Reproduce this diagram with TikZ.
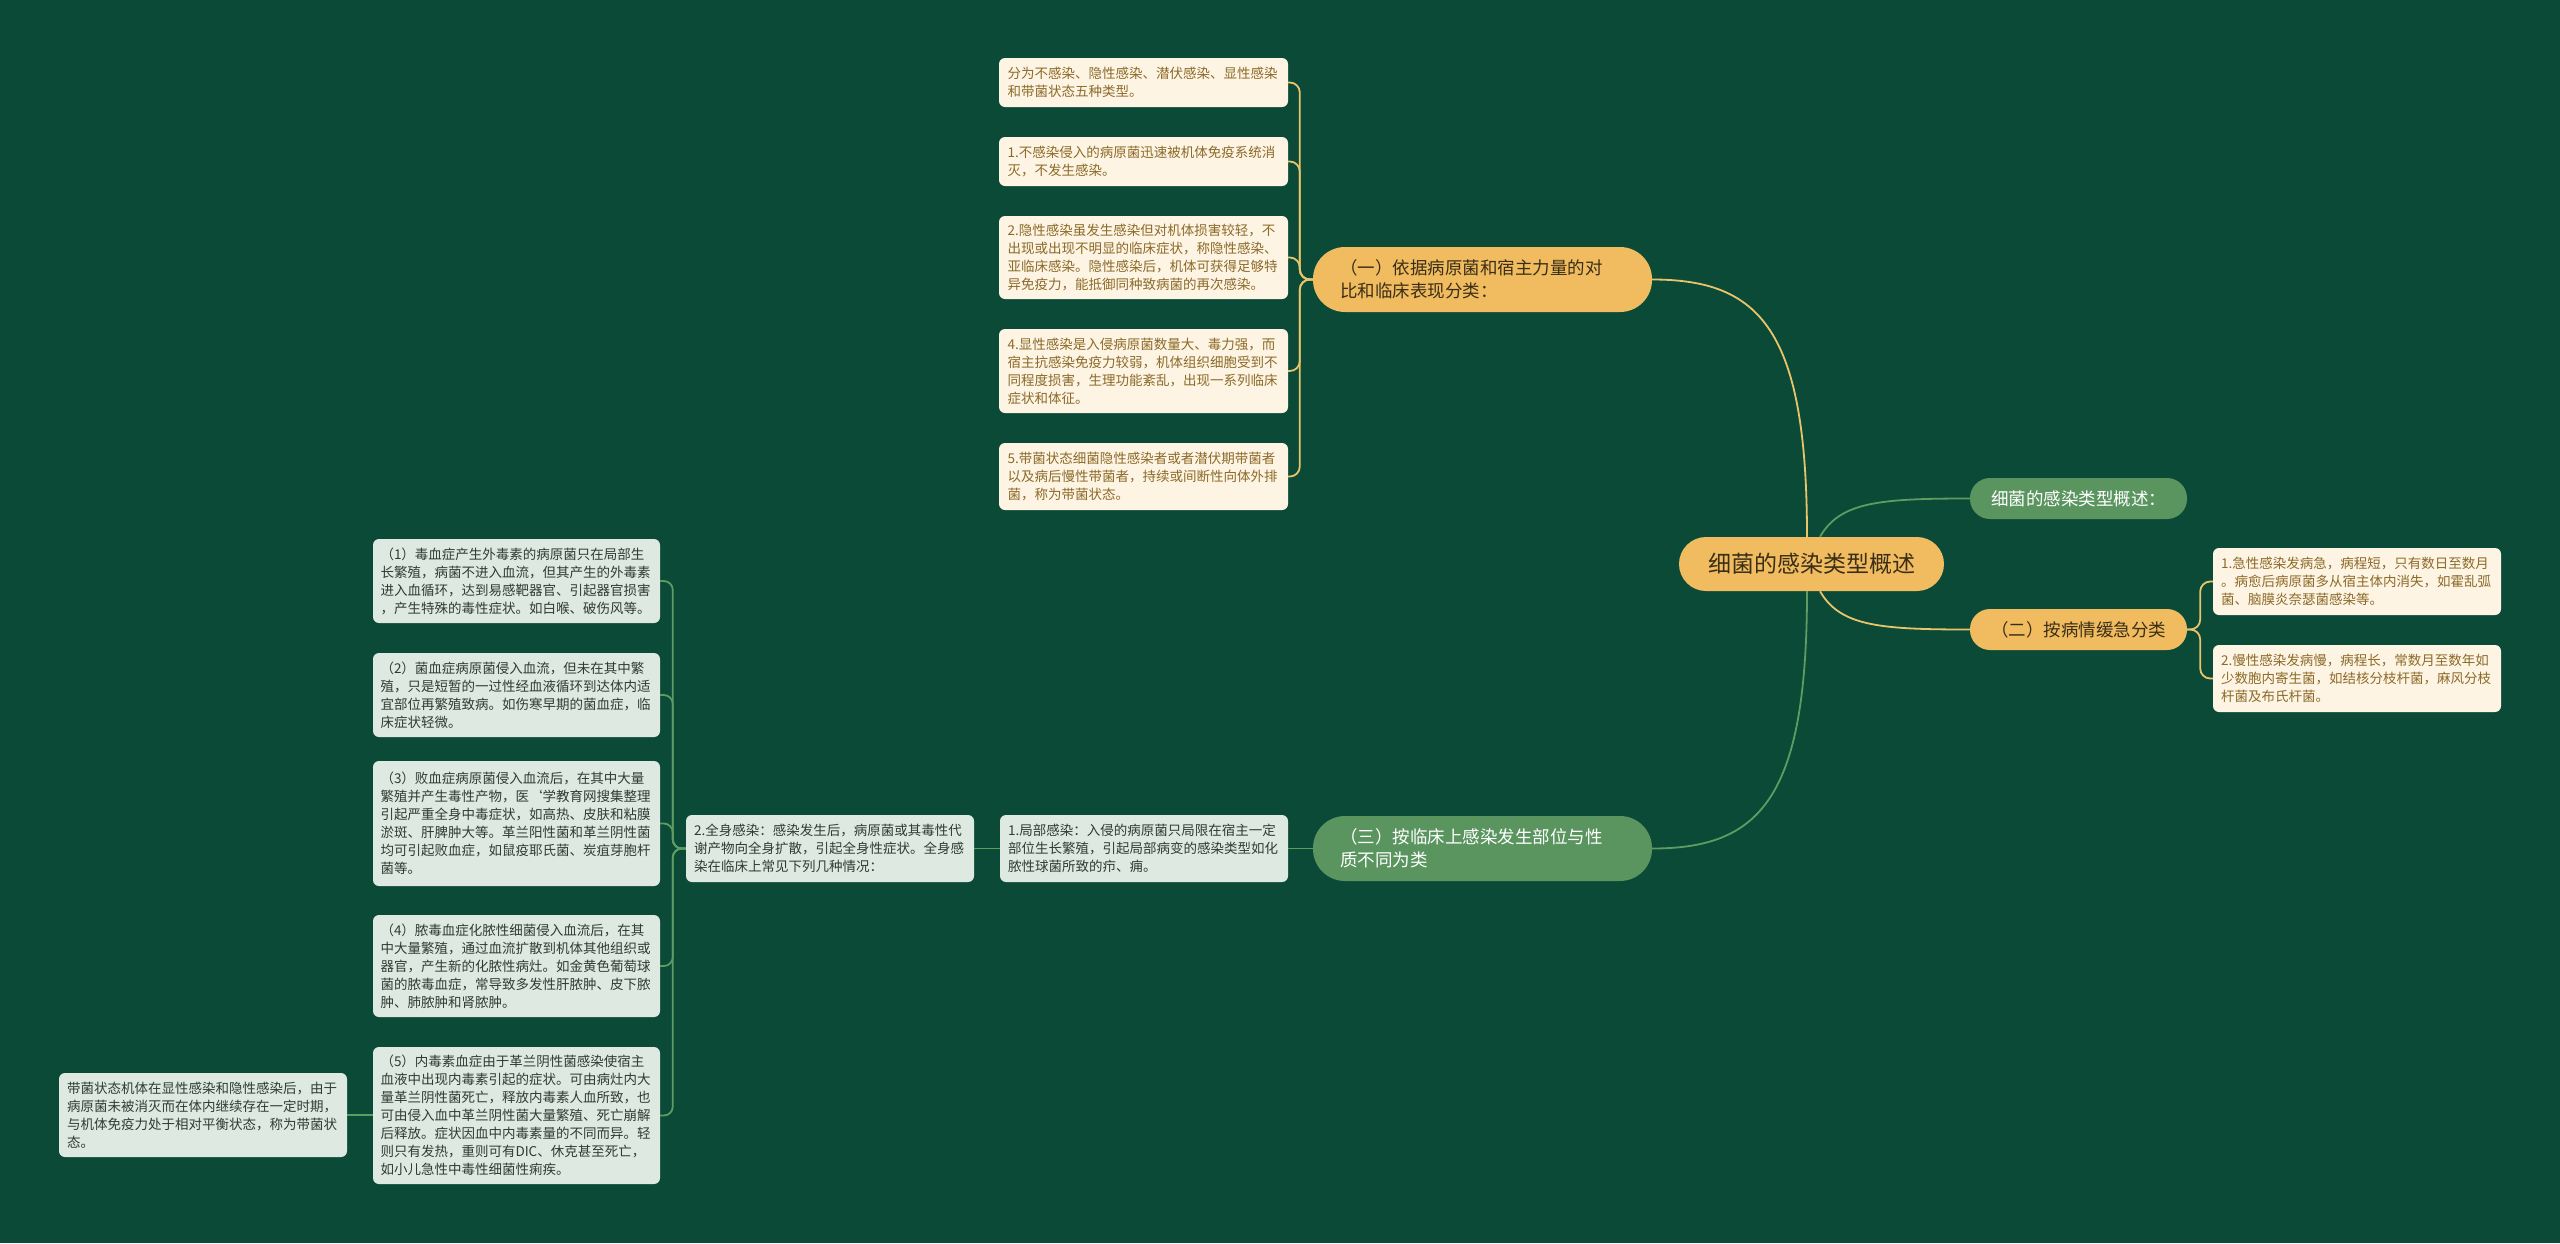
\documentclass[tikz,border=0pt]{standalone}
\usepackage{fontspec}
\setmainfont{Noto Sans CJK SC}
\usetikzlibrary{calc}
\definecolor{cBg}{HTML}{0C4A38}
\definecolor{cGoldFill}{HTML}{F0BC5F}
\definecolor{cGoldLine}{HTML}{E9C46A}
\definecolor{cGreenFill}{HTML}{5A9560}
\definecolor{cGreenLine}{HTML}{5E9C62}
\definecolor{cCream}{HTML}{FDF4E4}
\definecolor{cCreamText}{HTML}{8C6A28}
\definecolor{cLeafG}{HTML}{DEE9E1}
\definecolor{cLeafGText}{HTML}{2F3B33}
\definecolor{cDarkText}{HTML}{3A2E17}
\begin{document}
\begin{tikzpicture}[x=1pt,y=-1pt,
  leafY/.style={fill=cCream, rounded corners=6pt, text=cCreamText, font=\fontsize{13.5}{18}\selectfont, align=left, inner sep=0pt, text width=272pt, minimum width=289pt},
  leafG/.style={fill=cLeafG, rounded corners=6pt, text=cLeafGText, font=\fontsize{13.5}{18}\selectfont, align=left, inner sep=0pt, text width=272pt, minimum width=288pt},
  branchO/.style={fill=cGoldFill, text=cDarkText, inner sep=0pt, font=\fontsize{17.5}{23}\selectfont, align=left},
  branchG/.style={fill=cGreenFill, text=white, inner sep=0pt, font=\fontsize{17.5}{23}\selectfont, align=left},
  lineGold/.style={draw=cGoldLine, line width=1.8pt},
  lineGreen/.style={draw=cGreenLine, line width=1.8pt}
]
\fill[cBg] (0,0) rectangle (2560,1243);
\useasboundingbox (0,0) rectangle (2560,1243);

% central topic
\node[fill=cGoldFill, rounded corners=27pt, minimum width=265pt, minimum height=54pt, inner sep=0pt, text=cDarkText, font=\fontsize{23}{28}\selectfont] (center) at (1811.5,564) {细菌的感染类型概述};

% branches
\node[branchO, rounded corners=32pt, minimum width=339pt, minimum height=65pt, text width=285pt] (b1) at (1482.5,279.5) {（一）依据病原菌和宿主力量的对\\比和临床表现分类：};
\node[branchG, rounded corners=20pt, minimum width=217pt, minimum height=41pt] (g1) at (2078.5,498.5) {细菌的感染类型概述：};
\node[branchO, rounded corners=20pt, minimum width=217pt, minimum height=41pt] (b2) at (2078.5,629.5) {（二）按病情缓急分类};
\node[branchG, rounded corners=32pt, minimum width=339pt, minimum height=65pt, text width=285pt] (b3) at (1482.5,848.5) {（三）按临床上感染发生部位与性\\质不同为类};

% leaves of (一)
\node[leafY, minimum height=49pt] (lA) at (1143.5,82.5) {分为不感染、隐性感染、潜伏感染、显性感染\\和带菌状态五种类型。};
\node[leafY, minimum height=49pt] (lB) at (1143.5,161.5) {1.不感染侵入的病原菌迅速被机体免疫系统消\\灭，不发生感染。};
\node[leafY, minimum height=83pt] (lC) at (1143.5,257.5) {2.隐性感染虽发生感染但对机体损害较轻，不\\出现或出现不明显的临床症状，称隐性感染、\\亚临床感染。隐性感染后，机体可获得足够特\\异免疫力，能抵御同种致病菌的再次感染。};
\node[leafY, minimum height=84pt] (lD) at (1143.5,371) {4.显性感染是入侵病原菌数量大、毒力强，而\\宿主抗感染免疫力较弱，机体组织细胞受到不\\同程度损害，生理功能紊乱，出现一系列临床\\症状和体征。};
\node[leafY, minimum height=67pt] (lE) at (1143.5,476.5) {5.带菌状态细菌隐性感染者或者潜伏期带菌者\\以及病后慢性带菌者，持续或间断性向体外排\\菌，称为带菌状态。};

% leaves of (二)
\node[leafY, minimum width=288pt, minimum height=67pt] (r1) at (2357,581.5) {1.急性感染发病急，病程短，只有数日至数月\\。病愈后病原菌多从宿主体内消失，如霍乱弧\\菌、脑膜炎奈瑟菌感染等。};
\node[leafY, minimum width=288pt, minimum height=67pt] (r2) at (2357,678.5) {2.慢性感染发病慢，病程长，常数月至数年如\\少数胞内寄生菌，如结核分枝杆菌，麻风分枝\\杆菌及布氏杆菌。};

% (三) chain
\node[leafG, minimum height=67pt] (l1) at (1144,848.5) {1.局部感染：入侵的病原菌只局限在宿主一定\\部位生长繁殖，引起局部病变的感染类型如化\\脓性球菌所致的疖、痈。};
\node[leafG, minimum height=67pt] (g2) at (830,848.5) {2.全身感染：感染发生后，病原菌或其毒性代\\谢产物向全身扩散，引起全身性症状。全身感\\染在临床上常见下列几种情况：};

\node[leafG, minimum width=287pt, minimum height=84pt] (c1) at (516.5,581) {（1）毒血症产生外毒素的病原菌只在局部生\\长繁殖，病菌不进入血流，但其产生的外毒素\\进入血循环，达到易感靶器官、引起器官损害\\，产生特殊的毒性症状。如白喉、破伤风等。};
\node[leafG, minimum width=287pt, minimum height=84pt] (c2) at (516.5,695) {（2）菌血症病原菌侵入血流，但未在其中繁\\殖，只是短暂的一过性经血液循环到达体内适\\宜部位再繁殖致病。如伤寒早期的菌血症，临\\床症状轻微。};
\node[leafG, minimum width=287pt, minimum height=125pt] (c3) at (516.5,823.5) {（3）败血症病原菌侵入血流后，在其中大量\\繁殖并产生毒性产物，医\symbol{96}学教育网搜集整理\\引起严重全身中毒症状，如高热、皮肤和粘膜\\淤斑、肝脾肿大等。革兰阳性菌和革兰阴性菌\\均可引起败血症，如鼠疫耶氏菌、炭疽芽胞杆\\菌等。};
\node[leafG, minimum width=287pt, minimum height=102pt] (c4) at (516.5,966) {（4）脓毒血症化脓性细菌侵入血流后，在其\\中大量繁殖，通过血流扩散到机体其他组织或\\器官，产生新的化脓性病灶。如金黄色葡萄球\\菌的脓毒血症，常导致多发性肝脓肿、皮下脓\\肿、肺脓肿和肾脓肿。};
\node[leafG, minimum width=287pt, minimum height=137pt] (c5) at (516.5,1115.5) {（5）内毒素血症由于革兰阴性菌感染使宿主\\血液中出现内毒素引起的症状。可由病灶内大\\量革兰阴性菌死亡，释放内毒素人血所致，也\\可由侵入血中革兰阴性菌大量繁殖、死亡崩解\\后释放。症状因血中内毒素量的不同而异。轻\\则只有发热，重则可有DIC、休克甚至死亡，\\如小儿急性中毒性细菌性痢疾。};
\node[leafG, minimum height=84pt] (carrier) at (203,1115) {带菌状态机体在显性感染和隐性感染后，由于\\病原菌未被消灭而在体内继续存在一定时期，\\与机体免疫力处于相对平衡状态，称为带菌状\\态。};

% connectors: center to branches
\draw[lineGold] (b1.east) .. controls +(108,0) and +(0,-207) .. ($(center.north)+(-4.5,0)$);
\draw[lineGreen] (b3.east) .. controls +(108,0) and +(0,207) .. ($(center.south)+(-4.5,0)$);
\draw[lineGreen] ($(center.north)+(8.5,0)$) .. controls +(20,-35) and +(-90,0) .. (g1.west);
\draw[lineGold] ($(center.south)+(8.5,0)$) .. controls +(20,35) and +(-90,0) .. (b2.west);

% (一) leaves
\coordinate (sp1) at ($(b1.west)+(-13,0)$);
\foreach \n in {lA,lB,lC,lD,lE}{
  \draw[lineGold, rounded corners=10pt] (\n.east) -| (sp1) -- (b1.west);
}
% (二) leaves
\coordinate (sp2) at ($(b2.east)+(13,0)$);
\foreach \n in {r1,r2}{
  \draw[lineGold, rounded corners=10pt] (b2.east) -- (sp2) |- (\n.west);
}
% (三) chain
\draw[lineGreen] (b3.west) -- (l1.east);
\draw[lineGreen] (l1.west) -- (g2.east);
\coordinate (sp3) at ($(g2.west)+(-13,0)$);
\foreach \n in {c1,c2,c3,c4,c5}{
  \draw[lineGreen, rounded corners=9pt] (\n.east) -| (sp3) -- (g2.west);
}
\draw[lineGreen] (carrier.east) -- (carrier.east -| c5.west);
\end{tikzpicture}
\end{document}
